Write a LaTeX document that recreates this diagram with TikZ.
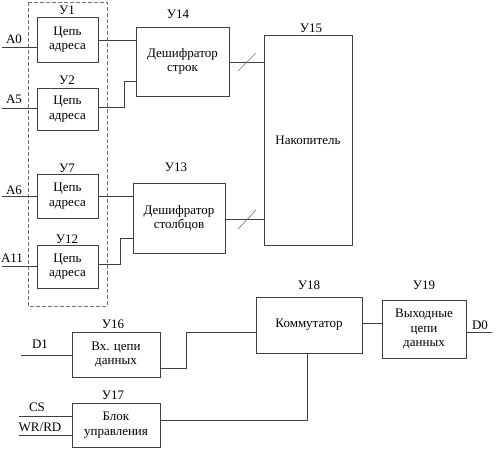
\documentclass[tikz,border=0pt]{standalone}
\usepackage{fontspec}
\setmainfont{Liberation Serif}
\begin{document}
\begin{tikzpicture}[x=1pt,y=-1pt,
  blk/.style={draw=black!75,line width=0.8pt,fill=white,inner sep=0pt,align=center,font=\fontsize{13}{14.5}\selectfont},
  lbl/.style={inner sep=0pt,font=\fontsize{13}{14.5}\selectfont},
  wire/.style={draw=black!75,line width=0.8pt},
  slash/.style={draw=black!55,line width=0.6pt}]
\useasboundingbox (0,0) rectangle (498,456);
% dashed group
\draw[black!55,dash pattern=on 4pt off 2pt,line width=0.8pt] (28,2) rectangle (107,306);
% blocks
\node[blk,minimum width=61pt,minimum height=45pt] (u1) at (67.5,39.5) {Цепь\\адреса};
\node[blk,minimum width=61pt,minimum height=42pt] (u2) at (67.5,109) {Цепь\\адреса};
\node[blk,minimum width=61pt,minimum height=44pt] (u7) at (67.5,196) {Цепь\\адреса};
\node[blk,minimum width=61pt,minimum height=43pt] (u12) at (67.5,266.5) {Цепь\\адреса};
\node[blk,minimum width=93pt,minimum height=69pt] (u14) at (182.5,61.5) {Дешифратор\\строк};
\node[blk,minimum width=92pt,minimum height=70pt] (u13) at (179,218) {Дешифратор\\столбцов};
\node[blk,minimum width=88pt,minimum height=210pt] (u15) at (308,140) {Накопитель};
\node[blk,minimum width=88pt,minimum height=45pt] (u16) at (116,354.5) {Вх. цепи\\данных};
\node[blk,minimum width=88pt,minimum height=44pt] (u17) at (116,425) {Блок\\управления};
\node[blk,minimum width=106pt,minimum height=56pt] (u18) at (309,325) {Коммутатор};
\node[blk,minimum width=84pt,minimum height=58pt] (u19) at (424,329) {Выходные\\цепи\\данных};
% block labels
\node[lbl] (l1) at (67,10) {У1};
\node[lbl] (l2) at (67,80) {У2};
\node[lbl] (l7) at (67,168) {У7};
\node[lbl] (l12) at (67,239) {У12};
\node[lbl] (l14) at (178,14) {У14};
\node[lbl] (l13) at (176,167) {У13};
\node[lbl] (l15) at (311,28) {У15};
\node[lbl] (l16) at (113,324) {У16};
\node[lbl] (l17) at (113,395) {У17};
\node[lbl] (l18) at (309,285) {У18};
\node[lbl] (l19) at (424,285) {У19};
% signal labels
\node[lbl] (sa0) at (14,39) {A0};
\node[lbl] (sa5) at (14,99) {A5};
\node[lbl] (sa6) at (14,190) {A6};
\node[lbl] (sa11) at (12,258) {A11};
\node[lbl] (sd1) at (40,344) {D1};
\node[lbl] (scs) at (37,407) {CS};
\node[lbl] (swr) at (40,427) {WR/RD};
\node[lbl] (sd0) at (480,325) {D0};
% free ends
\coordinate (ia0) at (2,47);
\coordinate (ia5) at (2,108);
\coordinate (ia6) at (2,196);
\coordinate (ia11) at (2,266);
\coordinate (id1) at (21,355);
\coordinate (ics) at (19,416);
\coordinate (iwr) at (19,435);
\coordinate (od0) at (492,332);
% inputs
\draw[wire] (ia0) -- (ia0 -| u1.west);
\draw[wire] (ia5) -- (ia5 -| u2.west);
\draw[wire] (ia6) -- (ia6 -| u7.west);
\draw[wire] (ia11) -- (ia11 -| u12.west);
\draw[wire] (id1) -- (id1 -| u16.west);
\draw[wire] (ics) -- (ics -| u17.west);
\draw[wire] (iwr) -- (iwr -| u17.west);
\draw[wire] (od0) -- (od0 -| u19.east);
% address to decoders
\draw[wire] (u1.east |- 0,40) -- (u14.west |- 0,40);
\draw[wire] (u2.east |- 0,107) -- (124,107) -- (124,81) -- (u14.west |- 0,81);
\draw[wire] (u7.east |- 0,196) -- (u13.west |- 0,196);
\draw[wire] (u12.east |- 0,264) -- (120,264) -- (120,238) -- (u13.west |- 0,238);
% decoders to storage
\draw[wire] (u14.east |- 0,62) -- (u15.west |- 0,62);
\draw[slash] (238,71) -- (256,53);
\draw[wire] (u13.east |- 0,219) -- (u15.west |- 0,219);
\draw[slash] (238,229) -- (256,210);
% data path
\draw[wire] (u16.east |- 0,368) -- (186,368) -- (186,332) -- (u18.west |- 0,332);
\draw[wire] (u17.east |- 0,420) -- (307,420) -- (307,0 |- u18.south);
\draw[wire] (u18.east |- 0,323) -- (u19.west |- 0,323);
\end{tikzpicture}
\end{document}
